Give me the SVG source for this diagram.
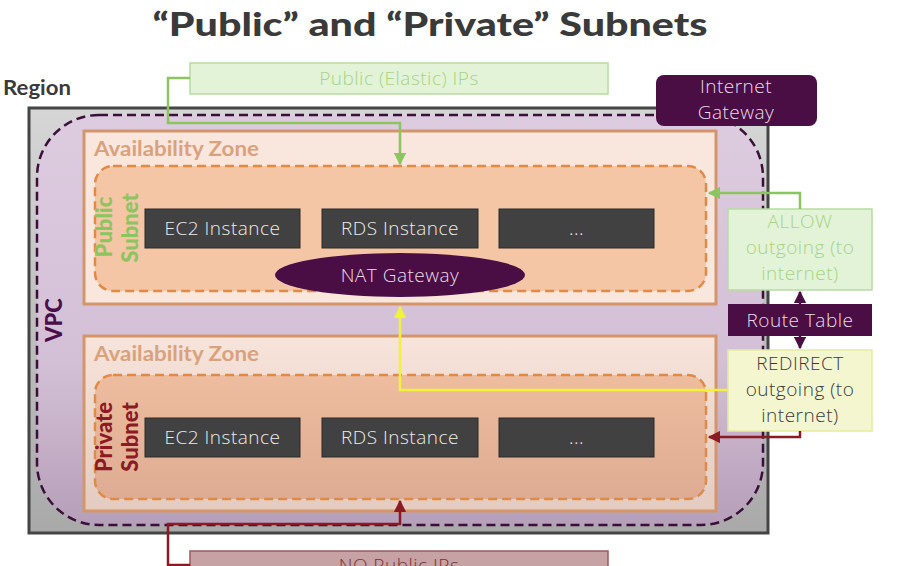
<svg xmlns="http://www.w3.org/2000/svg" width="901" height="566" viewBox="0 0 901 566">
<defs>
<linearGradient id="gRegion" x1="0" y1="0" x2="0" y2="1">
<stop offset="0" stop-color="#d6d6d6"/><stop offset="1" stop-color="#a9a9a9"/>
</linearGradient>
<linearGradient id="gVpc" x1="0" y1="0" x2="0" y2="1">
<stop offset="0" stop-color="#ddcbe0"/><stop offset="0.6" stop-color="#d3c0d6"/><stop offset="1" stop-color="#b69fb9"/>
</linearGradient>
<linearGradient id="gAz2" x1="0" y1="0" x2="0" y2="1">
<stop offset="0" stop-color="#f7e4da"/><stop offset="1" stop-color="#e3cbc0"/>
</linearGradient>
<linearGradient id="gPriv" x1="0" y1="0" x2="0" y2="1">
<stop offset="0" stop-color="#eebd9f"/><stop offset="1" stop-color="#ddac92"/>
</linearGradient>
<marker id="aGreen" viewBox="0 0 10 10" refX="9" refY="5" markerWidth="5" markerHeight="5" orient="auto"><path d="M0,0 L10,5 L0,10 z" fill="#8cc460"/></marker>
<marker id="aYellow" viewBox="0 0 10 10" refX="9" refY="5" markerWidth="5" markerHeight="5" orient="auto"><path d="M0,0 L10,5 L0,10 z" fill="#f2f23c"/></marker>
<marker id="aMaroon" viewBox="0 0 10 10" refX="9" refY="5" markerWidth="5" markerHeight="5" orient="auto"><path d="M0,0 L10,5 L0,10 z" fill="#8b1a22"/></marker>
<marker id="aPurple" viewBox="0 0 10 10" refX="9" refY="5" markerWidth="5" markerHeight="5" orient="auto"><path d="M0,0 L10,5 L0,10 z" fill="#4a0e45"/></marker>
</defs>
<style>
text{font-family:"Open Sans","Liberation Sans",sans-serif;}
.title{font-family:"Lato","Liberation Sans",sans-serif;font-weight:900;font-size:33px;fill:#3a3a3a;}
.region{font-family:"Lato","Liberation Sans",sans-serif;font-weight:700;font-size:20px;fill:#3a3a3a;}
.az{font-family:"Lato","Liberation Sans",sans-serif;font-weight:700;font-size:20px;fill:#d9a27c;}
.azbox{stroke:#d5956b;stroke-width:3;}
.subnet{stroke:#e08a45;stroke-width:2.5;stroke-dasharray:9 5;}
.inst{fill:#414141;stroke:#2a2a2a;stroke-width:1;}
.itxt{font-size:19px;font-weight:300;fill:#ececec;text-anchor:middle;letter-spacing:0.5px;}
.dark{fill:#4a0e45;}
.ltxt{font-size:19px;font-weight:300;fill:#eadcea;text-anchor:middle;letter-spacing:0.5px;}
.green{fill:#e3f3d8;stroke:#b8dba2;stroke-width:1.5;}
.gtxt{font-size:19px;font-weight:300;fill:#a6d386;text-anchor:middle;letter-spacing:0.5px;}
.ytxt{font-size:19px;font-weight:300;fill:#3a3a3a;text-anchor:middle;letter-spacing:0.5px;}
.vlab{font-family:"Lato","Liberation Sans",sans-serif;font-weight:900;font-size:22px;text-anchor:middle;}
.conn{fill:none;stroke-width:2.5;}
</style>

<text class="title" x="430" y="36" text-anchor="middle" textLength="555" lengthAdjust="spacingAndGlyphs">“Public” and “Private” Subnets</text>

<g id="region">
<text class="region" x="3" y="95" textLength="68" lengthAdjust="spacingAndGlyphs">Region</text>
<rect x="29" y="108" width="739" height="425" fill="url(#gRegion)" stroke="#454545" stroke-width="3"/>
</g>

<g id="vpc">
<rect x="37" y="115" width="726" height="410" rx="62" ry="62" fill="url(#gVpc)" stroke="#3a0f3a" stroke-width="2.5" stroke-dasharray="9 5"/>
<text class="vlab" transform="translate(62,320) rotate(-90)" font-size="20" fill="#4a0e4a">VPC</text>
</g>

<g id="az1">
<rect class="azbox" x="84" y="131" width="632" height="173" fill="#f9e6dc"/>
<text class="az" x="94" y="156" textLength="165" lengthAdjust="spacingAndGlyphs">Availability Zone</text>
</g>

<g id="public-subnet">
<rect class="subnet" x="95" y="166" width="611" height="125" rx="18" ry="18" fill="#f5c6a5"/>
<text class="vlab" transform="translate(112,227) rotate(-90)" fill="#8cc460">Public</text>
<text class="vlab" transform="translate(138,228) rotate(-90)" fill="#8cc460">Subnet</text>
</g>

<g id="pub-ec2"><rect class="inst" x="145" y="209" width="155" height="39"/><text class="itxt" x="222.5" y="235">EC2 Instance</text></g>
<g id="pub-rds"><rect class="inst" x="322" y="209" width="156" height="39"/><text class="itxt" x="400" y="235">RDS Instance</text></g>
<g id="pub-more"><rect class="inst" x="499" y="209" width="155" height="39"/><text class="itxt" x="576.5" y="235">...</text></g>

<g id="nat-gateway">
<ellipse class="dark" cx="400" cy="275" rx="125" ry="22"/>
<text class="ltxt" x="400" y="282">NAT Gateway</text>
</g>

<g id="az2">
<rect class="azbox" x="84" y="336" width="632" height="175" fill="url(#gAz2)"/>
<text class="az" x="94" y="361" textLength="165" lengthAdjust="spacingAndGlyphs">Availability Zone</text>
</g>

<g id="private-subnet">
<rect class="subnet" x="95" y="375" width="611" height="124" rx="18" ry="18" fill="url(#gPriv)"/>
<text class="vlab" transform="translate(112,437) rotate(-90)" fill="#8b1a22">Private</text>
<text class="vlab" transform="translate(138,437) rotate(-90)" fill="#8b1a22">Subnet</text>
</g>

<g id="priv-ec2"><rect class="inst" x="145" y="418" width="155" height="39"/><text class="itxt" x="222.5" y="444">EC2 Instance</text></g>
<g id="priv-rds"><rect class="inst" x="322" y="418" width="156" height="39"/><text class="itxt" x="400" y="444">RDS Instance</text></g>
<g id="priv-more"><rect class="inst" x="499" y="418" width="155" height="39"/><text class="itxt" x="576.5" y="444">...</text></g>

<g id="public-ips">
<rect class="green" x="190" y="63" width="418" height="31"/>
<text class="gtxt" x="399" y="85">Public (Elastic) IPs</text>
</g>

<g id="internet-gateway">
<rect class="dark" x="656" y="75" width="161" height="51" rx="8" ry="8"/>
<text class="ltxt" x="736" y="93">Internet</text>
<text class="ltxt" x="736" y="119">Gateway</text>
</g>

<g id="allow">
<rect class="green" x="728" y="209" width="144" height="81"/>
<text class="gtxt" x="800" y="228">ALLOW</text>
<text class="gtxt" x="800" y="254">outgoing (to</text>
<text class="gtxt" x="800" y="280">internet)</text>
</g>

<g id="route-table">
<rect class="dark" x="728" y="304" width="144" height="32"/>
<text class="ltxt" x="800" y="327">Route Table</text>
</g>

<g id="redirect">
<rect x="728" y="350" width="144" height="81" fill="#f3f6cf" stroke="#e4eba0" stroke-width="1.5"/>
<text class="ytxt" x="800" y="370">REDIRECT</text>
<text class="ytxt" x="800" y="396">outgoing (to</text>
<text class="ytxt" x="800" y="422">internet)</text>
</g>

<g id="no-public-ips">
<rect x="190" y="551" width="418" height="30" fill="#c7a2a4" stroke="#9a5a5e" stroke-width="1.5"/>
<text x="399" y="572" font-size="19" font-weight="300" fill="#7a3035" text-anchor="middle" letter-spacing="0.5">NO Public IPs</text>
</g>

<g id="connectors">
<path class="conn" d="M190,78 H168 V123 H400 V164" stroke="#8cc460" marker-end="url(#aGreen)"/>
<path class="conn" d="M800,209 V193 H709" stroke="#8cc460" marker-end="url(#aGreen)"/>
<path class="conn" d="M728,390 H400 V307" stroke="#f2f23c" marker-end="url(#aYellow)"/>
<path class="conn" d="M800,431 V437 H709" stroke="#8b1a22" marker-end="url(#aMaroon)"/>
<path class="conn" d="M190,565 H168 V524 H400 V501" stroke="#8b1a22" marker-end="url(#aMaroon)"/>
<path class="conn" d="M800,304 V292" stroke="#4a0e45" stroke-width="2" marker-end="url(#aPurple)"/>
<path class="conn" d="M800,336 V348" stroke="#4a0e45" stroke-width="2" marker-end="url(#aPurple)"/>
</g>
</svg>
